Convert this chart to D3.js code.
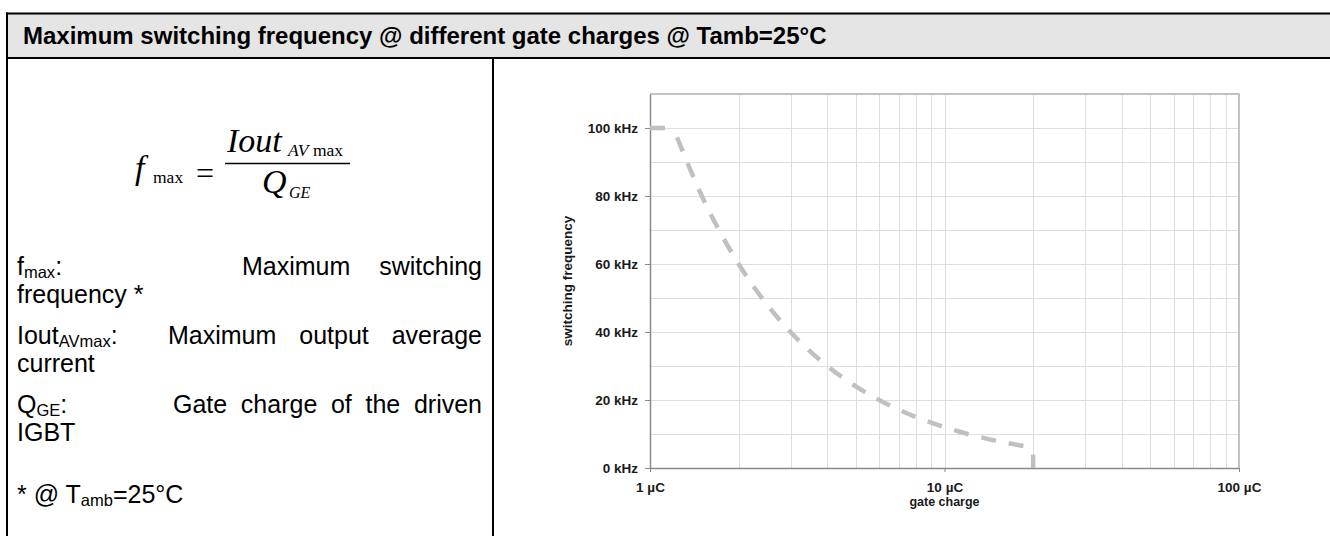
<!DOCTYPE html>
<html><head><meta charset="utf-8">
<script src="https://cdn.jsdelivr.net/npm/d3@7"></script>
<style>body{margin:0;background:#fff}svg{display:block}</style>
</head><body><svg id="c" width="1330" height="536"></svg>
<script>
// ---- data ----
const gateCharge    = [1, 1.2, 1.5, 2, 2.5, 3, 4, 5, 6, 8, 10, 12, 15, 20];   // µC
const switchingFreq = [100, 100, 80, 60, 48, 40, 30, 24, 20, 15, 12, 10, 8, 6]; // kHz
const dropCharge = [20, 20];   // vertical end of the curve
const dropFreq   = [6, 0];
const yTicks = [0, 20, 40, 60, 80, 100];
const yTickLabels = ["0 kHz", "20 kHz", "40 kHz", "60 kHz", "80 kHz", "100 kHz"];
const yGrid = [10, 20, 30, 40, 50, 60, 70, 80, 90, 100];
const xTicks = [1, 10, 100];
const xTickLabels = ["1 µC", "10 µC", "100 µC"];
const xGrid = [2, 3, 4, 5, 6, 7, 8, 9, 10, 20, 30, 40, 50, 60, 70, 80, 90];
const titleText = "Maximum switching frequency @ different gate charges @ Tamb=25°C";
const xTitle = "gate charge";
const yTitle = "switching frequency";

const SANS = "'Liberation Sans', Arial, Helvetica, sans-serif";
const SERIF = "'Liberation Serif', 'Times New Roman', serif";
const svg = d3.select("#c");

// ---- table frame ----
svg.append("rect").attr("x", 7).attr("y", 13).attr("width", 1330).attr("height", 45).attr("fill", "#e5e5e5");
svg.append("line").attr("x1", 6).attr("x2", 1330).attr("y1", 13.5).attr("y2", 13.5).attr("stroke", "#000").attr("stroke-width", 2);
svg.append("line").attr("x1", 6).attr("x2", 1330).attr("y1", 58).attr("y2", 58).attr("stroke", "#000").attr("stroke-width", 2);
svg.append("line").attr("x1", 7).attr("x2", 7).attr("y1", 12.5).attr("y2", 536).attr("stroke", "#000").attr("stroke-width", 2);
svg.append("line").attr("x1", 493).attr("x2", 493).attr("y1", 58).attr("y2", 536).attr("stroke", "#000").attr("stroke-width", 2);

svg.append("text").attr("x", 23).attr("y", 44).attr("font-family", SANS).attr("font-weight", "bold")
  .attr("font-size", 24).attr("fill", "#000").text(titleText);

// ---- formula ----
const fm = svg.append("g").attr("font-family", SERIF).attr("fill", "#000");
fm.append("text").attr("x", 135).attr("y", 179).attr("font-size", 34).attr("font-style", "italic").text("f");
fm.append("text").attr("x", 153).attr("y", 183).attr("font-size", 17.5).text("max");
fm.append("text").attr("x", 196).attr("y", 184).attr("font-size", 32).text("=");
fm.append("line").attr("x1", 225).attr("x2", 350).attr("y1", 163.5).attr("y2", 163.5).attr("stroke", "#000").attr("stroke-width", 1.4);
const num = fm.append("text").attr("x", 227).attr("y", 152).attr("font-size", 34);
num.append("tspan").attr("font-style", "italic").text("Iout");
num.append("tspan").attr("x", 288).attr("dy", 4).attr("font-size", 17.5).attr("font-style", "italic").text("AV");
num.append("tspan").attr("font-size", 17.5).text(" max");
const den = fm.append("text").attr("x", 262).attr("y", 193).attr("font-size", 34);
den.append("tspan").attr("font-style", "italic").text("Q");
den.append("tspan").attr("x", 289).attr("dy", 5).attr("font-size", 16).attr("font-style", "italic").text("GE");

// ---- left description text ----
const lt = svg.append("g").attr("font-family", SANS).attr("font-size", 25).attr("fill", "#000");
function labelWithSub(x, y, main, sub, tail) {
  const t = lt.append("text").attr("x", x).attr("y", y);
  t.append("tspan").text(main);
  t.append("tspan").attr("font-size", 16.5).attr("dy", 2.5).text(sub);
  t.append("tspan").attr("dy", -2.5).text(tail);
  return t;
}
function justify(words, x0, x1, y) {
  const els = words.map(w => lt.append("text").attr("y", y).text(w));
  const widths = els.map(e => e.node().getComputedTextLength());
  const total = d3.sum(widths);
  const gap = (x1 - x0 - total) / (words.length - 1);
  let x = x0;
  els.forEach((e, i) => { e.attr("x", x); x += widths[i] + gap; });
}
labelWithSub(17, 275, "f", "max", ":");
justify(["Maximum", "switching"], 242, 482, 275);
lt.append("text").attr("x", 17).attr("y", 303).text("frequency *");
labelWithSub(17, 344, "Iout", "AVmax", ":");
justify(["Maximum", "output", "average"], 168, 482, 344);
lt.append("text").attr("x", 17).attr("y", 372).text("current");
labelWithSub(17, 413, "Q", "GE", ":");
justify(["Gate", "charge", "of", "the", "driven"], 173, 482, 413);
lt.append("text").attr("x", 17).attr("y", 441).text("IGBT");
labelWithSub(17, 503, "* @ T", "amb", "=25°C");

// ---- chart ----
const x = d3.scaleLog().domain([1, 100]).range([650, 1239]);
const y = d3.scaleLinear().domain([0, 110]).range([468, 94]);

const grid = svg.append("g").attr("stroke", "#dedede").attr("stroke-width", 1);
grid.selectAll("line.h").data(yGrid).join("line").attr("class", "h")
  .attr("x1", x(1)).attr("x2", x(100)).attr("y1", d => Math.round(y(d)) + 0.5).attr("y2", d => Math.round(y(d)) + 0.5);
grid.selectAll("line.v").data(xGrid).join("line").attr("class", "v")
  .attr("y1", y(0)).attr("y2", y(110)).attr("x1", d => Math.round(x(d)) + 0.5).attr("x2", d => Math.round(x(d)) + 0.5);

// plot frame (top / right)
svg.append("path").attr("d", `M${x(1)},${y(110)}H${x(100)}V${y(0)}`).attr("fill", "none")
  .attr("stroke", "#b0b0b0").attr("stroke-width", 1.5);

const yAxis = d3.axisLeft(y).tickValues(yTicks).tickSize(5).tickSizeOuter(0).tickPadding(7)
  .tickFormat((d, i) => yTickLabels[i]);
const gy = svg.append("g").attr("transform", `translate(${x(1)},0)`).call(yAxis);
const xAxis = d3.axisBottom(x).tickValues(xTicks).tickSize(4).tickSizeOuter(0).tickPadding(10)
  .tickFormat((d, i) => xTickLabels[i]);
const gx = svg.append("g").attr("transform", `translate(0,${y(0)})`).call(xAxis);
[gx, gy].forEach(g => {
  g.select(".domain").attr("stroke", "#8a8a8a").attr("stroke-width", 1.5);
  g.selectAll(".tick line").attr("stroke", "#8a8a8a");
  g.selectAll(".tick text").attr("font-family", SANS).attr("font-weight", "bold")
    .attr("font-size", 13.5).attr("fill", "#1a1a1a");
});

svg.append("text").attr("x", (x(1) + x(100)) / 2).attr("y", 506).attr("text-anchor", "middle")
  .attr("font-family", SANS).attr("font-weight", "bold").attr("font-size", 12.5).attr("fill", "#1a1a1a").text(xTitle);
svg.append("text").attr("transform", `translate(572,${(y(0) + y(110)) / 2}) rotate(-90)`).attr("text-anchor", "middle")
  .attr("font-family", SANS).attr("font-weight", "bold").attr("font-size", 13.5).attr("fill", "#1a1a1a").text(yTitle);

// ---- curve ----
const line = d3.line().x(d => x(d[0])).y(d => y(d[1]));
const headPts = gateCharge.slice(0, 2).map((q, i) => [q, switchingFreq[i]]);
const curvePts = gateCharge.slice(1).map((q, i) => [q, switchingFreq[i + 1]]);
const dropPts = dropCharge.map((q, i) => [q, dropFreq[i]]);
const style = p => p.attr("fill", "none").attr("stroke", "#c0c0c0").attr("stroke-width", 4.5)
  .attr("stroke-dasharray", "15,13");
svg.append("path").datum(headPts).attr("d", line.curve(d3.curveLinear)).call(style);
svg.append("path").datum(curvePts).attr("d", line.curve(d3.curveMonotoneX)).call(style)
  .attr("stroke-dashoffset", -10);
svg.append("path").datum(dropPts).attr("d", line.curve(d3.curveLinear)).call(style)
  .attr("stroke-dashoffset", 21);
</script></body></html>
